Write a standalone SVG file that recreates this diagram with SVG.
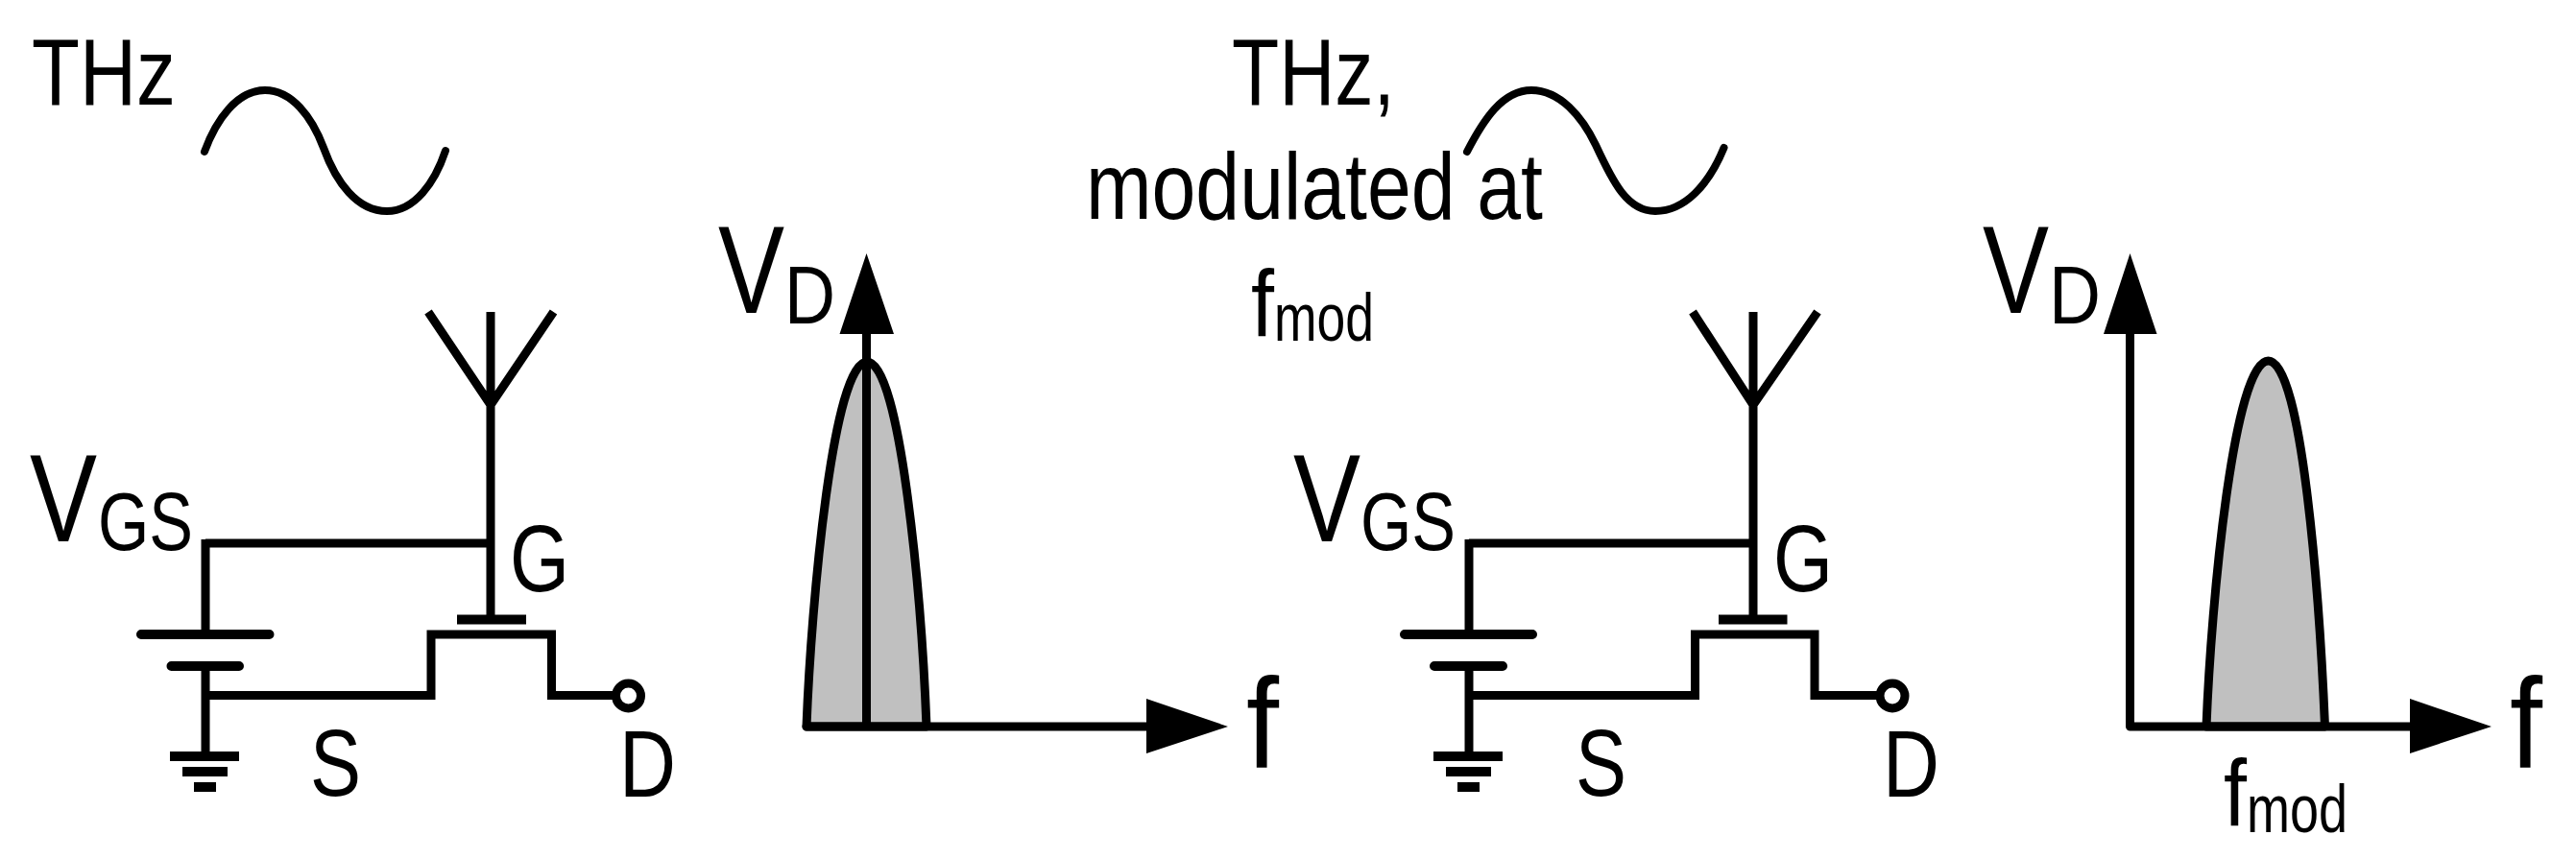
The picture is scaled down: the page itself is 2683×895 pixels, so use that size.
<svg xmlns="http://www.w3.org/2000/svg" width="2683" height="895" viewBox="0 0 2683 895">
<style>
text{font-family:"Liberation Sans",Arial,sans-serif;fill:#000}
.l{font-size:99px}.v{font-size:130px}.s{font-size:86px}.f{font-size:133px}.m{font-size:70px}
.w{fill:none;stroke:#000;stroke-width:9}
.t{fill:none;stroke:#000;stroke-width:10}
.r{fill:none;stroke:#000;stroke-width:10;stroke-linecap:round}
.c{fill:none;stroke:#000;stroke-width:8;stroke-linecap:round}
.b{fill:#c0c0c0;stroke:#000;stroke-width:9;stroke-linejoin:round}
.a{fill:none;stroke:#000;stroke-width:9;stroke-linecap:round}
.h{fill:#000}
.o{fill:#fff;stroke:#000;stroke-width:9}
</style>
<g id="thz-left">
<text class="l" x="33" y="109" textLength="150" lengthAdjust="spacingAndGlyphs">THz</text>
<path class="c" d="M213 158C225 125 247 94 276 94C304 94 325 122 337 154C350 190 372 220 403 220C432 220 453 190 464 157"/>
</g>
<g id="fet-left">
<path class="w" d="M446 325L511 422L576.500 325M511 325V641"/>
<path class="t" d="M476 645.500H548M177 788H249M190 804H237M202 820H225"/>
<path class="r" d="M147 661H280.500M178.500 694H249"/>
<path class="w" d="M214 566H507M214 562V661M214 694V788M214 724.500H449V661H574.500V724.500H643"/>
<circle class="o" cx="654.500" cy="725" r="13"/>
<text class="v" x="31" y="564" textLength="70" lengthAdjust="spacingAndGlyphs">V</text>
<text class="s" x="102" y="573" textLength="99" lengthAdjust="spacingAndGlyphs">GS</text>
<text class="l" x="531" y="616" textLength="62" lengthAdjust="spacingAndGlyphs">G</text>
<text class="l" x="323" y="829" textLength="53" lengthAdjust="spacingAndGlyphs">S</text>
<text class="l" x="645" y="830" textLength="59" lengthAdjust="spacingAndGlyphs">D</text>
</g>
<g id="spectrum-left">
<path class="b" d="M840 757C845 625 868 377 903 377C938 377 960 625 965 757Z"/>
<path class="a" d="M902.500 757V345M840 757H1197"/>
<path class="h" d="M902.500 264L931 348H874.500ZM1194 728L1279 757L1194 785Z"/>
<text class="v" x="748" y="326" textLength="69" lengthAdjust="spacingAndGlyphs">V</text>
<text class="s" x="817" y="337" textLength="53" lengthAdjust="spacingAndGlyphs">D</text>
<text class="f" x="1298" y="800" textLength="34" lengthAdjust="spacingAndGlyphs">f</text>
</g>
<g id="thz-mod">
<text class="l" x="1283" y="109" textLength="170" lengthAdjust="spacingAndGlyphs">THz,</text>
<text class="l" x="1131" y="228" textLength="476" lengthAdjust="spacingAndGlyphs">modulated at</text>
<text class="l" x="1303" y="350" textLength="24" lengthAdjust="spacingAndGlyphs">f</text>
<text class="m" x="1327" y="355" textLength="104" lengthAdjust="spacingAndGlyphs">mod</text>
<path class="c" d="M1528 158C1545 125 1565 94 1595 94C1625 94 1648 122 1662 151C1680 190 1695 220 1724 220C1755 220 1780 192 1795.500 154"/>
</g>
<g id="fet-right">
<path class="w" d="M1763 325L1826 422L1893 325M1826 325V641"/>
<path class="t" d="M1790 645.500H1861.500M1493 788H1565M1506 804H1553M1518 820H1541"/>
<path class="r" d="M1463 661H1596M1494 694H1565"/>
<path class="w" d="M1530 566H1822M1530 562V661M1530 694V788M1530 724.500H1765.500V661H1890V724.500H1960"/>
<circle class="o" cx="1971" cy="725" r="13"/>
<text class="v" x="1347" y="564" textLength="70" lengthAdjust="spacingAndGlyphs">V</text>
<text class="s" x="1417" y="573" textLength="99" lengthAdjust="spacingAndGlyphs">GS</text>
<text class="l" x="1847" y="616" textLength="62" lengthAdjust="spacingAndGlyphs">G</text>
<text class="l" x="1641" y="829" textLength="53" lengthAdjust="spacingAndGlyphs">S</text>
<text class="l" x="1961" y="830" textLength="59" lengthAdjust="spacingAndGlyphs">D</text>
</g>
<g id="spectrum-right">
<path class="b" d="M2298 757C2303 625 2327 376 2362.500 376C2398 376 2416 625 2421.500 757Z"/>
<path class="a" d="M2218.500 757V345M2218.500 757H2513"/>
<path class="h" d="M2218.500 264L2246.500 348H2191ZM2510 728L2595 757L2510 785Z"/>
<text class="v" x="2065" y="326" textLength="69" lengthAdjust="spacingAndGlyphs">V</text>
<text class="s" x="2134" y="337" textLength="54" lengthAdjust="spacingAndGlyphs">D</text>
<text class="f" x="2614" y="800" textLength="34" lengthAdjust="spacingAndGlyphs">f</text>
<text class="l" x="2316" y="860" textLength="24" lengthAdjust="spacingAndGlyphs">f</text>
<text class="m" x="2340" y="867" textLength="105" lengthAdjust="spacingAndGlyphs">mod</text>
</g>
</svg>
